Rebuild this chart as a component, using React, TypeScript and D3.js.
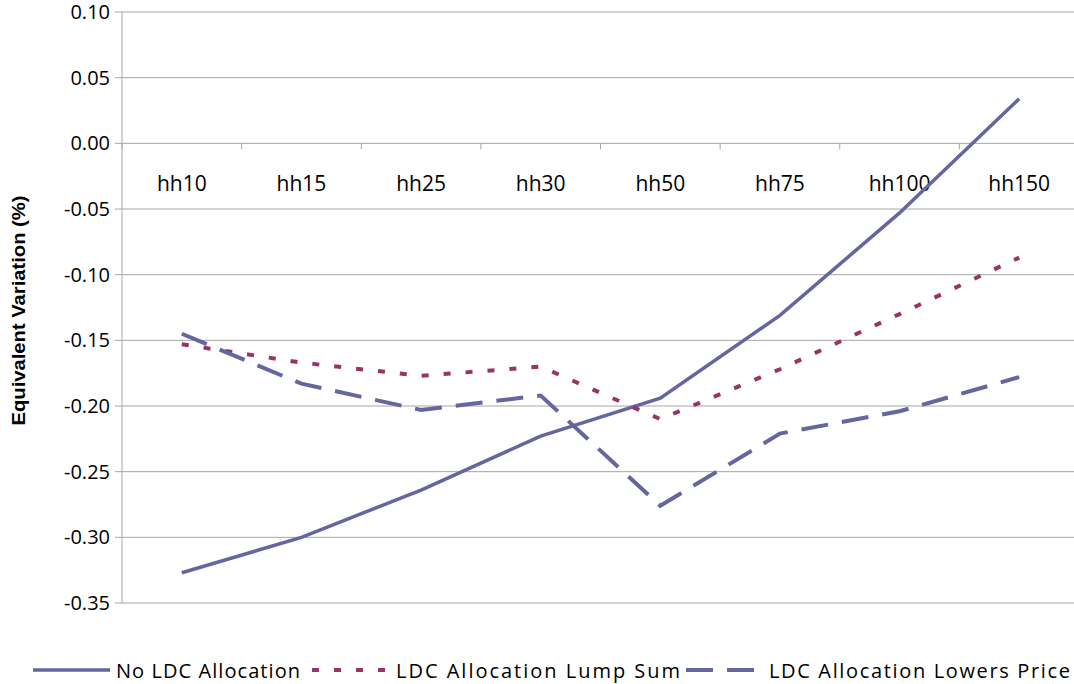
import React, { useEffect, useRef } from 'react';
import * as d3 from 'd3';

const categories = ['hh10', 'hh15', 'hh25', 'hh30', 'hh50', 'hh75', 'hh100', 'hh150'];
const noAllocation = [-0.327, -0.300, -0.264, -0.223, -0.194, -0.131, -0.053, 0.034];
const lumpSum = [-0.153, -0.167, -0.177, -0.170, -0.210, -0.172, -0.130, -0.087];
const lowersPrice = [-0.145, -0.183, -0.203, -0.192, -0.276, -0.221, -0.204, -0.178];
const yTicks = [0.10, 0.05, 0.0, -0.05, -0.10, -0.15, -0.20, -0.25, -0.30, -0.35];

const series = [
  { name: 'No LDC Allocation', values: noAllocation, color: '#65659f', dash: '', width: 3.5 },
  { name: 'LDC Allocation Lump Sum', values: lumpSum, color: '#993366', dash: '7,15', width: 4 },
  { name: 'LDC Allocation Lowers Price', values: lowersPrice, color: '#65659f', dash: '27,14', width: 4 },
];

const App: React.FC = () => {
  const svgRef = useRef<SVGSVGElement>(null);

  useEffect(() => {
    if (!svgRef.current) return;
    const svg = d3.select(svgRef.current);
    svg.selectAll('*').remove();

    const left = 122, right = 1079, top = 12, bottom = 603;
    const font = 'Open Sans, sans-serif';

    const x = d3.scaleBand<string>().domain(categories).range([left, right]);
    const y = d3.scaleLinear().domain([-0.35, 0.10]).range([bottom, top]);

    // gridlines
    svg.append('g')
      .selectAll('line')
      .data(yTicks)
      .enter()
      .append('line')
      .attr('x1', left - 7)
      .attr('x2', 1074)
      .attr('y1', d => y(d))
      .attr('y2', d => y(d))
      .attr('stroke', '#a6a6a6')
      .attr('stroke-width', 1);

    // y tick labels
    svg.append('g')
      .selectAll('text')
      .data(yTicks)
      .enter()
      .append('text')
      .attr('x', 110)
      .attr('y', d => y(d) + 7)
      .attr('text-anchor', 'end')
      .attr('font-family', font)
      .attr('font-size', 20)
      .attr('fill', '#000')
      .text(d => d.toFixed(2));

    // y axis line
    svg.append('line')
      .attr('x1', left).attr('x2', left)
      .attr('y1', top).attr('y2', bottom)
      .attr('stroke', '#a6a6a6');

    // category axis at zero
    const y0 = y(0);
    svg.append('g')
      .selectAll('line')
      .data(categories.map((c, i) => i).concat([categories.length]))
      .enter()
      .append('line')
      .attr('x1', i => left + i * x.step())
      .attr('x2', i => left + i * x.step())
      .attr('y1', y0)
      .attr('y2', y0 + 6)
      .attr('stroke', '#a6a6a6');

    svg.append('g')
      .selectAll('text')
      .data(categories)
      .enter()
      .append('text')
      .attr('x', d => (x(d) as number) + x.bandwidth() / 2)
      .attr('y', y0 + 48)
      .attr('text-anchor', 'middle')
      .attr('font-family', font)
      .attr('font-size', 21)
      .attr('fill', '#000')
      .text(d => d);

    // y axis title
    svg.append('text')
      .attr('transform', `translate(25,${(top + bottom) / 2 + 3}) rotate(-90)`)
      .attr('text-anchor', 'middle')
      .attr('font-family', 'Liberation Sans, Arial, sans-serif')
      .attr('font-weight', 'bold')
      .attr('font-size', 18)
      .attr('textLength', 230)
      .attr('lengthAdjust', 'spacingAndGlyphs')
      .text('Equivalent Variation (%)');

    // lines
    const line = d3.line<number>()
      .x((d, i) => (x(categories[i]) as number) + x.bandwidth() / 2)
      .y(d => y(d));

    series.forEach(s => {
      svg.append('path')
        .datum(s.values)
        .attr('fill', 'none')
        .attr('stroke', s.color)
        .attr('stroke-width', s.width)
        .attr('stroke-dasharray', s.dash || null)
        .attr('d', line);
    });

    // legend
    const legendY = 670;
    const legendItems = [
      { x1: 33, x2: 110, tx: 116, len: 184 },
      { x1: 312, x2: 387, tx: 396, len: 284 },
      { x1: 686, x2: 755, tx: 769, len: 301 },
    ];
    series.forEach((s, i) => {
      const it = legendItems[i];
      svg.append('line')
        .attr('x1', it.x1).attr('x2', it.x2)
        .attr('y1', legendY).attr('y2', legendY)
        .attr('stroke', s.color)
        .attr('stroke-width', s.width)
        .attr('stroke-dasharray', s.dash || null);
      svg.append('text')
        .attr('x', it.tx)
        .attr('y', legendY + 8)
        .attr('font-family', font)
        .attr('font-size', 20)
        .attr('textLength', it.len)
        .attr('lengthAdjust', 'spacing')
        .text(s.name);
    });
  }, []);

  return (
    <svg ref={svgRef} width={1074} height={684} style={{ position: 'absolute', left: 0, top: 0 }} />
  );
};

export default App;
